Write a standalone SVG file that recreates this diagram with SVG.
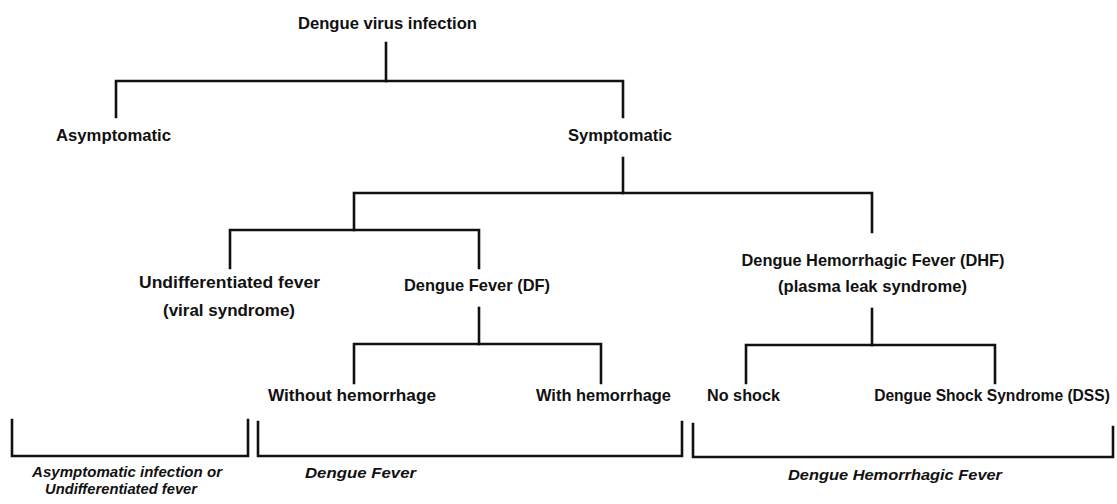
<svg xmlns="http://www.w3.org/2000/svg" width="1117" height="504" viewBox="0 0 1117 504">
<style>
.n{font-family:"Liberation Sans",Arial,sans-serif;font-weight:bold;font-size:16.5px;fill:#111;text-anchor:middle}
.c{font-family:"Liberation Sans",Arial,sans-serif;font-weight:bold;font-style:italic;font-size:15px;fill:#111;text-anchor:middle}
.l{fill:none;stroke:#111;stroke-width:2.6;stroke-linejoin:miter;stroke-linecap:square}
</style>
<rect width="1117" height="504" fill="#fff"/>
<g id="connectors">
<path class="l" d="M386,43 V81"/>
<path class="l" d="M116,117 V81 H623 V117"/>
<path class="l" d="M623,158 V193"/>
<path class="l" d="M354,230 V193 H872 V232"/>
<path class="l" d="M230,268 V230 H479 V268"/>
<path class="l" d="M479,308 V344"/>
<path class="l" d="M354,383 V344 H601 V383"/>
<path class="l" d="M872,309 V345"/>
<path class="l" d="M746,383 V345 H995 V383"/>
</g>
<g id="node-root"><text class="n" x="387.5" y="29" textLength="179" lengthAdjust="spacingAndGlyphs">Dengue virus infection</text></g>
<g id="node-asymptomatic"><text class="n" x="113.5" y="141" textLength="115" lengthAdjust="spacingAndGlyphs">Asymptomatic</text></g>
<g id="node-symptomatic"><text class="n" x="620" y="141" textLength="104" lengthAdjust="spacingAndGlyphs">Symptomatic</text></g>
<g id="node-undiff">
<text class="n" x="229.5" y="288" textLength="181" lengthAdjust="spacingAndGlyphs">Undifferentiated fever</text>
<text class="n" x="229" y="316" textLength="132" lengthAdjust="spacingAndGlyphs">(viral syndrome)</text>
</g>
<g id="node-df"><text class="n" x="477" y="291" textLength="146" lengthAdjust="spacingAndGlyphs">Dengue Fever (DF)</text></g>
<g id="node-dhf">
<text class="n" x="873" y="266" textLength="263" lengthAdjust="spacingAndGlyphs">Dengue Hemorrhagic Fever (DHF)</text>
<text class="n" x="872.5" y="292" textLength="189" lengthAdjust="spacingAndGlyphs">(plasma leak syndrome)</text>
</g>
<g id="node-without"><text class="n" x="352" y="401" textLength="168" lengthAdjust="spacingAndGlyphs">Without hemorrhage</text></g>
<g id="node-with"><text class="n" x="603.5" y="401" textLength="135" lengthAdjust="spacingAndGlyphs">With hemorrhage</text></g>
<g id="node-noshock"><text class="n" x="743.5" y="401" textLength="73" lengthAdjust="spacingAndGlyphs">No shock</text></g>
<g id="node-dss"><text class="n" x="992" y="401" style="font-size:15.6px">Dengue Shock Syndrome (DSS)</text></g>
<g id="bracket-asymptomatic">
<path class="l" d="M12,420 V456 H248 V420"/>
<text class="c" x="127" y="477" textLength="190" lengthAdjust="spacingAndGlyphs">Asymptomatic infection or</text>
<text class="c" x="121" y="494" textLength="152" lengthAdjust="spacingAndGlyphs">Undifferentiated fever</text>
</g>
<g id="bracket-df">
<path class="l" d="M258,422 V456 H682 V422"/>
<text class="c" x="360.5" y="478" textLength="111" lengthAdjust="spacingAndGlyphs">Dengue Fever</text>
</g>
<g id="bracket-dhf">
<path class="l" d="M693,424 V457 H1113 V427"/>
<text class="c" x="895" y="480" textLength="214" lengthAdjust="spacingAndGlyphs">Dengue Hemorrhagic Fever</text>
</g>
</svg>
